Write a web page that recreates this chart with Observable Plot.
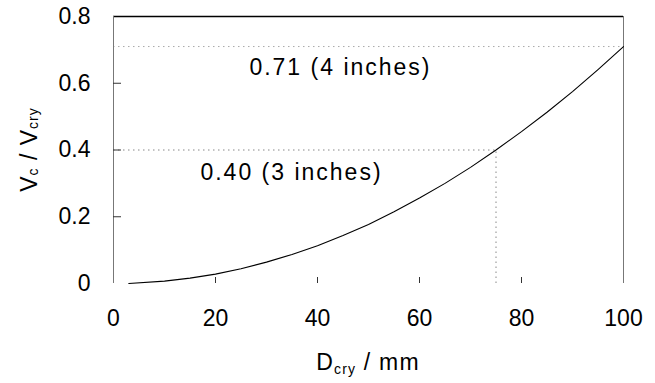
<!DOCTYPE html>
<html>
<head>
<meta charset="utf-8">
<script src="https://cdn.jsdelivr.net/npm/d3@7"></script>
<script src="https://cdn.jsdelivr.net/npm/@observablehq/plot@0.6"></script>
<style>
  html, body { margin: 0; padding: 0; background: #fff; }
  svg { font-family: "Liberation Sans", Arial, sans-serif; }
</style>
</head>
<body>
<div id="chart"></div>
<script>
// Curve: crystal diameter (mm) vs Vc/Vcry
const diameter = [3, 10, 15, 20, 25, 30, 35, 40, 45, 50, 55, 60, 65, 70, 75, 80, 85, 90, 95, 100];
const ratio    = [0, 0.007, 0.016, 0.028, 0.044, 0.064, 0.087, 0.113, 0.144, 0.177, 0.215, 0.256, 0.300, 0.348, 0.400, 0.455, 0.513, 0.575, 0.641, 0.710];

// Reference markers
const refRatios = [0.71, 0.40];
const refDiameter = 75;

// Annotations
const noteText = ["0.71 (4 inches)", "0.40 (3 inches)"];
const noteX = [44.5, 34.9];
const noteY = [0.647, 0.333];

// Axis ticks
const xTicks = [0, 20, 40, 60, 80, 100];
const yTicks = [0, 0.2, 0.4, 0.6, 0.8];
const xDomain = [0, 100];
const yDomain = [0, 0.8];

const curve = diameter.map((d, i) => ({d, r: ratio[i]}));
const notes = noteText.map((t, i) => ({t, x: noteX[i], y: noteY[i]}));

const W = 655, H = 383;
const M = {left: 113, right: 32, top: 16, bottom: 100};
const plotW = W - M.left - M.right;
const FS = 23;

const chart = Plot.plot({
  width: W,
  height: H,
  marginLeft: M.left,
  marginRight: M.right,
  marginTop: M.top,
  marginBottom: M.bottom,
  style: {fontSize: FS + "px", fontFamily: "Liberation Sans, Arial, sans-serif", color: "#000", background: "#fff"},
  x: {domain: xDomain},
  y: {domain: yDomain},
  marks: [
    // reference lines
    Plot.ruleY([refRatios[0]], {x1: xDomain[0], x2: xDomain[1], stroke: "#aaa", strokeWidth: 1, strokeDasharray: "1.5,3.5"}),
    Plot.ruleY([refRatios[1]], {x1: xDomain[0], x2: refDiameter, stroke: "#888", strokeWidth: 1, strokeDasharray: "1.5,3.5"}),
    Plot.ruleX([refDiameter], {y1: yDomain[0], y2: refRatios[1], stroke: "#888", strokeWidth: 1, strokeDasharray: "1.5,3.5"}),
    // frame: top black, sides gray
    Plot.ruleY([yDomain[1]], {stroke: "#000", strokeWidth: 1.6}),
    Plot.ruleX(xDomain, {stroke: "#777", strokeWidth: 1}),
    // inward ticks
    Plot.axisX(xTicks.slice(1, -1), {tickSize: 6, dy: -6, fill: "none", stroke: "#333", label: null}),
    Plot.tickY(yTicks.slice(1, -1), {y: d => d, insetRight: plotW - 8, stroke: "#333", strokeWidth: 1}),
    // tick labels
    Plot.axisX(xTicks, {tickSize: 0, tickPadding: 26, label: null, fill: "#000", fontSize: FS}),
    Plot.axisY(yTicks, {tickSize: 0, tickPadding: 23, label: null, tickFormat: "~g", fill: "#000", fontSize: FS}),
    // curve
    Plot.line(curve, {x: "d", y: "r", stroke: "#000", strokeWidth: 1.1}),
    // annotations
    Plot.text(notes, {x: "x", y: "y", text: "t", fontSize: FS, fill: "#000", textAnchor: "middle", lineAnchor: "middle"})
  ]
});

const svg = d3.select(chart);
// wider letter spacing on the annotations, as in the reference
svg.selectAll('g[aria-label="text"] text').style("letter-spacing", "2px");

// Axis titles with subscripts
const xr = chart.scale("x").range;
const yr = chart.scale("y").range;
const xt = svg.append("text")
  .attr("x", (xr[0] + xr[1]) / 2)
  .attr("y", 370)
  .attr("text-anchor", "middle")
  .attr("font-size", FS)
  .attr("fill", "#000")
  .style("letter-spacing", "1.2px");
xt.append("tspan").text("D");
xt.append("tspan").attr("font-size", 14).attr("dy", 4).text("cry");
xt.append("tspan").attr("dy", -4).text(" / mm");

const yt = svg.append("text")
  .attr("transform", `translate(37,${(yr[0] + yr[1]) / 2}) rotate(-90)`)
  .attr("text-anchor", "middle")
  .attr("font-size", FS)
  .attr("fill", "#000")
  .style("letter-spacing", "1px");
yt.append("tspan").text("V");
yt.append("tspan").attr("font-size", 14).attr("dy", 1).text("c");
yt.append("tspan").attr("dy", -1).text(" / V");
yt.append("tspan").attr("font-size", 14).attr("dy", 1).text("cry");

document.getElementById("chart").appendChild(chart);
</script>
</body>
</html>
